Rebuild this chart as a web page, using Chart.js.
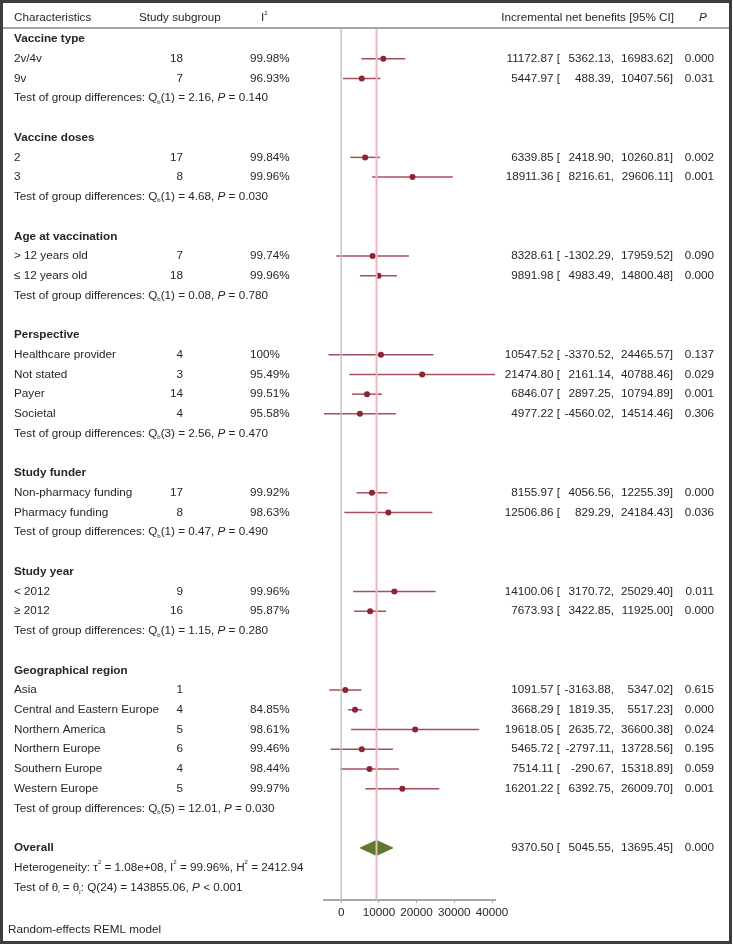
<!DOCTYPE html>
<html>
<head>
<meta charset="utf-8">
<script src="https://cdn.jsdelivr.net/npm/chart.js@4.4.1/dist/chart.umd.min.js"></script>
<style>
  body { margin: 0; background: #fff; }
  #wrap { position: relative; width: 733px; height: 944px; }
</style>
</head>
<body>
<div id="wrap"><canvas id="forest" width="733" height="944"></canvas></div>
<script>
// subgroup data
const groupNames = ["Vaccine type", "Vaccine doses", "Age at vaccination", "Perspective", "Study funder", "Study year", "Geographical region"];
const groupSizes = [2, 2, 2, 4, 2, 2, 6];
const rowLabels = ["2v/4v", "9v", "2", "3", "> 12 years old", "\u2264 12 years old",
    "Healthcare provider", "Not stated", "Payer", "Societal",
    "Non-pharmacy funding", "Pharmacy funding", "< 2012", "\u2265 2012",
    "Asia", "Central and Eastern Europe", "Northern America", "Northern Europe", "Southern Europe", "Western Europe"];
const studyCounts = [18, 7, 17, 8, 7, 18, 4, 3, 14, 4, 17, 8, 9, 16, 1, 4, 5, 6, 4, 5];
const i2Values = ["99.98%", "96.93%", "99.84%", "99.96%", "99.74%", "99.96%", "100%", "95.49%", "99.51%", "95.58%",
    "99.92%", "98.63%", "99.96%", "95.87%", "", "84.85%", "98.61%", "99.46%", "98.44%", "99.97%"];
const estimates = [11172.87, 5447.97, 6339.85, 18911.36, 8328.61, 9891.98, 10547.52, 21474.80, 6846.07, 4977.22,
    8155.97, 12506.86, 14100.06, 7673.93, 1091.57, 3668.29, 19618.05, 5465.72, 7514.11, 16201.22];
const lowerCI = [5362.13, 488.39, 2418.90, 8216.61, -1302.29, 4983.49, -3370.52, 2161.14, 2897.25, -4560.02,
    4056.56, 829.29, 3170.72, 3422.85, -3163.88, 1819.35, 2635.72, -2797.11, -290.67, 6392.75];
const upperCI = [16983.62, 10407.56, 10260.81, 29606.11, 17959.52, 14800.48, 24465.57, 40788.46, 10794.89, 14514.46,
    12255.39, 24184.43, 25029.40, 11925.00, 5347.02, 5517.23, 36600.38, 13728.56, 15318.89, 26009.70];
const pValues = ["0.000", "0.031", "0.002", "0.001", "0.090", "0.000", "0.137", "0.029", "0.001", "0.306",
    "0.000", "0.036", "0.011", "0.000", "0.615", "0.000", "0.024", "0.195", "0.059", "0.001"];
const testDf = [1, 1, 1, 3, 1, 1, 5];
const testQ = ["2.16", "4.68", "0.08", "2.56", "0.47", "1.15", "12.01"];
const testP = ["0.140", "0.030", "0.780", "0.470", "0.490", "0.280", "0.030"];
const overallEstimate = 9370.50;
const overallLower = 5045.55;
const overallUpper = 13695.45;
const overallP = "0.000";
const xTicks = [0, 10000, 20000, 30000, 40000];

// row layout: header, studies, test line, blank
let row = 0;
const groupRows = [], studyRows = [], testRows = [];
groupSizes.forEach(n => {
    groupRows.push(row++);
    for (let k = 0; k < n; k++) studyRows.push(row++);
    testRows.push(row++);
    row++;
});
const overallRow = row;
const yMin = -0.5575, yMax = 43.64;

const FONT = '"Liberation Sans", Arial, sans-serif';
const FS = 11.7;
const TEXT = "#262626";

function drawRich(ctx, x, y, parts) {
    parts.forEach(([txt, kind]) => {
        let size = FS, dy = 0, style = "";
        if (kind === "sub") { size = 6; dy = 4; }
        if (kind === "sup") { size = 6; dy = -5; }
        if (kind === "i") style = "italic ";
        ctx.font = style + size + "px " + FONT;
        ctx.fillText(txt, x, y + dy);
        x += ctx.measureText(txt).width;
    });
}

const textPlugin = {
    id: "forestText",
    afterDraw(chart) {
        const ctx = chart.ctx;
        const yS = chart.scales.y;
        const py = r => yS.getPixelForValue(r);
        ctx.save();
        // frame and header rule
        ctx.strokeStyle = "#3d3d3d";
        ctx.lineWidth = 3;
        ctx.strokeRect(1.5, 1.5, 729, 941);
        ctx.strokeStyle = "#a6a6a6";
        ctx.lineWidth = 2;
        ctx.beginPath();
        ctx.moveTo(3, 28);
        ctx.lineTo(729, 28);
        ctx.stroke();

        ctx.fillStyle = TEXT;
        ctx.textBaseline = "middle";
        ctx.textAlign = "left";
        const hy = py(-1.064);
        drawRich(ctx, 14, hy, [["Characteristics", "n"]]);
        drawRich(ctx, 139, hy, [["Study subgroup", "n"]]);
        drawRich(ctx, 261, hy, [["I", "n"], ["2", "sup"]]);
        drawRich(ctx, 699, hy, [["P", "i"]]);
        ctx.font = FS + "px " + FONT;
        ctx.textAlign = "right";
        ctx.fillText("Incremental net benefits [95% CI]", 674, hy);

        groupNames.forEach((g, i) => {
            ctx.textAlign = "left";
            ctx.font = "bold " + FS + "px " + FONT;
            ctx.fillText(g, 14, py(groupRows[i]));
            drawRich(ctx, 14, py(testRows[i]), [
                ["Test of group differences: Q", "n"], ["b", "sub"],
                ["(" + testDf[i] + ") = " + testQ[i] + ", ", "n"], ["P", "i"], [" = " + testP[i], "n"]]);
        });

        rowLabels.forEach((lab, i) => {
            const y = py(studyRows[i]);
            ctx.font = FS + "px " + FONT;
            ctx.textAlign = "left";
            ctx.fillText(lab, 14, y);
            ctx.fillText(i2Values[i], 250, y);
            ctx.textAlign = "right";
            ctx.fillText(String(studyCounts[i]), 183, y);
            ctx.fillText(estimates[i].toFixed(2) + " [", 560, y);
            ctx.fillText(lowerCI[i].toFixed(2) + ",", 614, y);
            ctx.fillText(upperCI[i].toFixed(2) + "]", 673, y);
            ctx.fillText(pValues[i], 714, y);
        });

        const oy = py(overallRow);
        ctx.textAlign = "left";
        ctx.font = "bold " + FS + "px " + FONT;
        ctx.fillText("Overall", 14, oy);
        ctx.font = FS + "px " + FONT;
        ctx.textAlign = "right";
        ctx.fillText(overallEstimate.toFixed(2) + " [", 560, oy);
        ctx.fillText(overallLower.toFixed(2) + ",", 614, oy);
        ctx.fillText(overallUpper.toFixed(2) + "]", 673, oy);
        ctx.fillText(overallP, 714, oy);
        ctx.textAlign = "left";
        drawRich(ctx, 14, py(overallRow + 1), [
            ["Heterogeneity: \u03c4", "n"], ["2", "sup"], [" = 1.08e+08, I", "n"], ["2", "sup"],
            [" = 99.96%, H", "n"], ["2", "sup"], [" = 2412.94", "n"]]);
        drawRich(ctx, 14, py(overallRow + 2), [
            ["Test of \u03b8", "n"], ["i", "sub"], [" = \u03b8", "n"], ["j", "sub"],
            [": Q(24) = 143855.06, ", "n"], ["P", "i"], [" < 0.001", "n"]]);
        drawRich(ctx, 8, 930, [["Random-effects REML model", "n"]]);
        ctx.restore();
    }
};

const ciSets = studyRows.map((r, i) => ({
    data: [{ x: lowerCI[i], y: r }, { x: upperCI[i], y: r }],
    showLine: true,
    borderColor: "#a4505c",
    borderWidth: 1.5,
    pointRadius: 0,
    order: 4
}));

const dh = 0.38;
new Chart(document.getElementById("forest"), {
    type: "scatter",
    data: {
        datasets: [
            {
                data: [{ x: overallEstimate, y: yMin }, { x: overallEstimate, y: yMax }],
                showLine: true, borderColor: "#f2b3c1", borderWidth: 2, pointRadius: 0, order: 0
            },
            {
                data: [{ x: 0, y: yMin }, { x: 0, y: yMax }],
                showLine: true, borderColor: "#c4c4c4", borderWidth: 1.5, pointRadius: 0, order: 1
            },
            {
                data: studyRows.map((r, i) => ({ x: estimates[i], y: r })),
                pointRadius: 3, pointBackgroundColor: "#8c2434", pointBorderWidth: 0, order: 2
            },
            {
                data: [{ x: overallLower, y: overallRow }, { x: overallEstimate, y: overallRow - dh }, { x: overallUpper, y: overallRow }],
                showLine: true, borderColor: "#5b7b2d", borderWidth: 1, pointRadius: 0, order: 5
            },
            {
                data: [{ x: overallLower, y: overallRow }, { x: overallEstimate, y: overallRow + dh }, { x: overallUpper, y: overallRow }],
                showLine: true, borderColor: "#5b7b2d", borderWidth: 1, pointRadius: 0,
                fill: "-1", backgroundColor: "#5b7b2d", order: 6
            },
            ...ciSets
        ]
    },
    options: {
        responsive: false,
        animation: false,
        devicePixelRatio: 1,
        layout: { padding: { left: 324, right: 238, top: 28, bottom: 14 } },
        plugins: { legend: { display: false }, tooltip: { enabled: false } },
        scales: {
            x: {
                type: "linear",
                min: -4560.02,
                max: 40788.46,
                afterBuildTicks: s => { s.ticks = xTicks.map(v => ({ value: v })); },
                afterFit: s => { s.height = 30; },
                border: { display: true, color: "#a8a8a8", width: 2 },
                grid: { drawOnChartArea: false, drawTicks: true, tickLength: 3, color: "#a8a8a8" },
                ticks: {
                    color: TEXT, padding: 3, maxRotation: 0, autoSkip: false,
                    font: { family: FONT, size: FS },
                    callback: v => String(v)
                }
            },
            y: {
                type: "linear",
                display: false,
                reverse: true,
                min: yMin,
                max: yMax
            }
        }
    },
    plugins: [textPlugin]
});
</script>
</body>
</html>
